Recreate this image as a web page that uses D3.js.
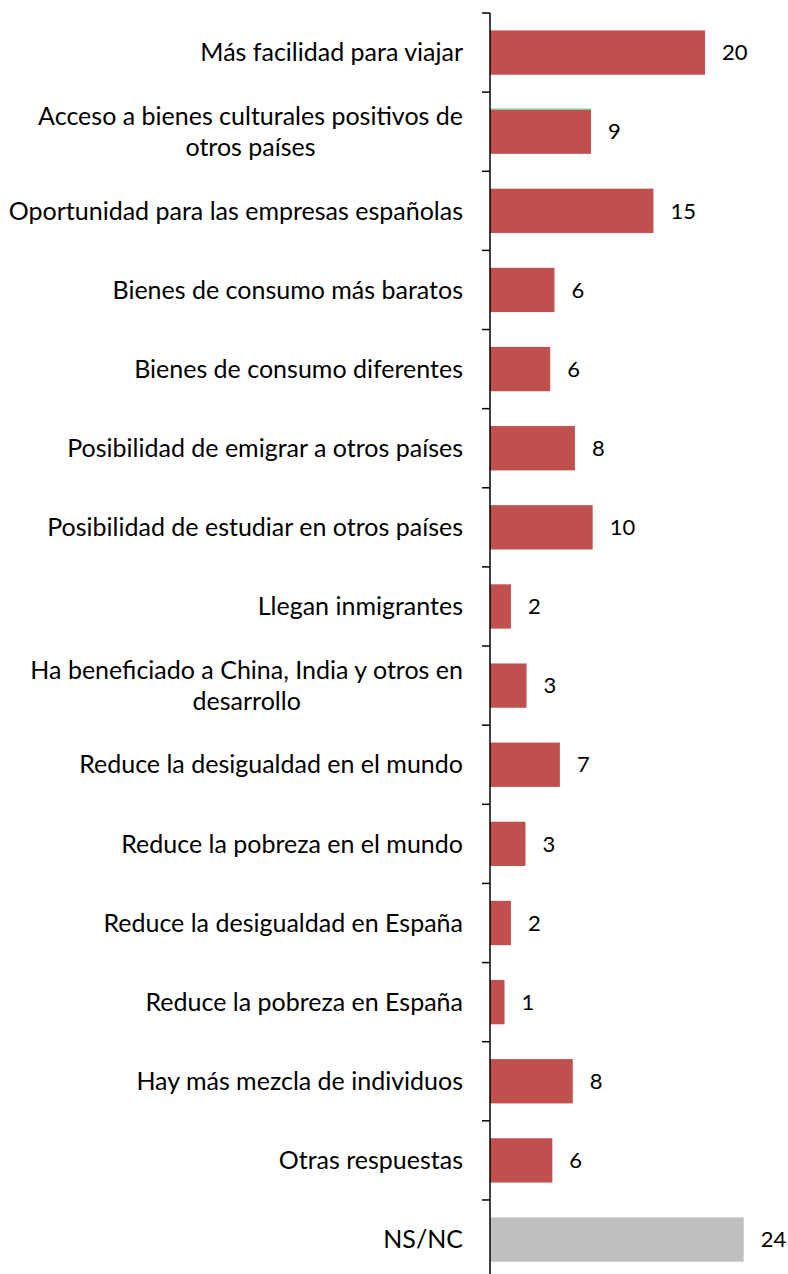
<!DOCTYPE html>
<html>
<head>
<meta charset="utf-8">
<script src="https://cdn.jsdelivr.net/npm/d3@7"></script>
<style>
  html, body { margin: 0; padding: 0; background: #fff; }
  svg { display: block; }
  text { font-family: Lato, "Open Sans", sans-serif; fill: #000; }
</style>
</head>
<body>
<div id="chart"></div>
<script>
// ---- data ----
const categories = [
  "Más facilidad para viajar",
  "Acceso a bienes culturales positivos de\notros países",
  "Oportunidad para las empresas españolas",
  "Bienes de consumo más baratos",
  "Bienes de consumo diferentes",
  "Posibilidad de emigrar a otros países",
  "Posibilidad de estudiar en otros países",
  "Llegan inmigrantes",
  "Ha beneficiado a China, India y otros en\ndesarrollo",
  "Reduce la desigualdad en el mundo",
  "Reduce la pobreza en el mundo",
  "Reduce la desigualdad en España",
  "Reduce la pobreza en España",
  "Hay más mezcla de individuos",
  "Otras respuestas",
  "NS/NC"
];
const values = [20.0, 9.4, 15.2, 6.0, 5.6, 7.9, 9.55, 1.95, 3.4, 6.5, 3.3, 1.95, 1.35, 7.7, 5.8, 23.6];
const valueLabels = ["20", "9", "15", "6", "6", "8", "10", "2", "3", "7", "3", "2", "1", "8", "6", "24"];
const barColors = ["#C0504D", "#C0504D", "#C0504D", "#C0504D", "#C0504D", "#C0504D", "#C0504D", "#C0504D",
                   "#C0504D", "#C0504D", "#C0504D", "#C0504D", "#C0504D", "#C0504D", "#C0504D", "#BFBFBF"];
const xDomain = [0, 24];

// ---- layout ----
const W = 788, H = 1274;
const axisX = 490;
const topY = 13;
const stepY = 79.13;

const svg = d3.select("#chart").append("svg").attr("width", W).attr("height", H);

const x = d3.scaleLinear().domain(xDomain).range([axisX, axisX + 24 * 10.75]);
const y = d3.scaleBand().domain(categories)
  .range([topY, topY + stepY * categories.length])
  .paddingInner(0.44).paddingOuter(0.22);

const rows = categories.map((c, i) => ({ c, v: values[i], lab: valueLabels[i], col: barColors[i] }));

// bars
svg.append("g").selectAll("rect").data(rows).join("rect")
  .attr("x", x(0))
  .attr("y", d => y(d.c))
  .attr("width", d => x(d.v) - x(0))
  .attr("height", y.bandwidth())
  .attr("fill", d => d.col);

// thin green line on top of second bar (as in reference)
svg.append("line")
  .attr("x1", x(0)).attr("x2", x(values[1]))
  .attr("y1", y(categories[1]) - 0.5).attr("y2", y(categories[1]) - 0.5)
  .attr("stroke", "#5ccf8a").attr("stroke-width", 1);

// value labels
svg.append("g").selectAll("text").data(rows).join("text")
  .attr("x", d => x(d.v) + 17)
  .attr("y", d => y(d.c) + y.bandwidth() / 2)
  .attr("dy", "0.35em")
  .attr("font-size", 22)
  .text(d => d.lab);

// axis line and ticks at band boundaries
const off = (y.step() - y.bandwidth()) / 2;
const tickYs = categories.map(c => y(c) - off).concat([y(categories[categories.length - 1]) - off + y.step()]);
const ax = svg.append("g");
ax.append("line")
  .attr("x1", axisX).attr("x2", axisX)
  .attr("y1", topY).attr("y2", y.range()[1])
  .attr("stroke", "#000").attr("stroke-width", 1.5);
ax.selectAll("line.tick").data(tickYs).join("line").attr("class", "tick")
  .attr("x1", axisX - 8).attr("x2", axisX)
  .attr("y1", d => d).attr("y2", d => d)
  .attr("stroke", "#000").attr("stroke-width", 1.5);

// category labels
const lh = 31;
const labels = svg.append("g").selectAll("text").data(rows).join("text")
  .attr("text-anchor", "middle")
  .attr("font-size", 25)
  .each(function (d) {
    const lines = d.c.split("\n");
    const t = d3.select(this);
    const cy = y(d.c) + y.bandwidth() / 2;
    lines.forEach((ln, k) => {
      t.append("tspan")
        .attr("y", cy + (k - (lines.length - 1) / 2) * lh)
        .attr("dy", "0.35em")
        .text(ln);
    });
  });
labels.each(function () {
  const t = d3.select(this);
  const spans = t.selectAll("tspan").nodes();
  const widths = spans.map(s => s.getComputedTextLength());
  const maxW = d3.max(widths);
  const cx = 463 - maxW / 2;
  t.selectAll("tspan").attr("x", cx);
});
</script>
</body>
</html>
